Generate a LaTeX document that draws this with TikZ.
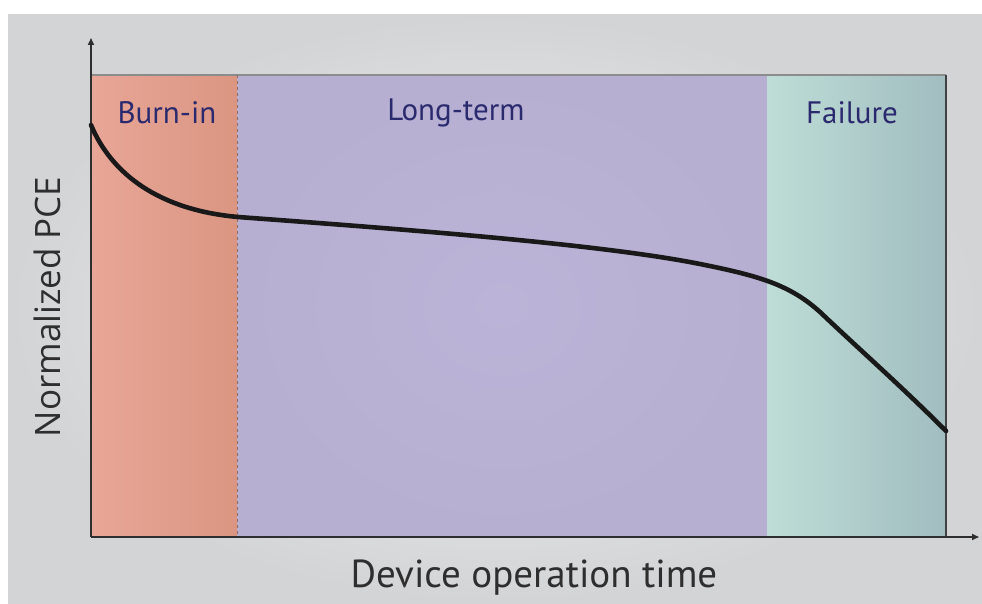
\documentclass[tikz,border=0pt]{standalone}
\usepackage{fontspec}
\setmainfont{PT Sans}
\newfontfamily\axisfont{Open Sans}
\usetikzlibrary{arrows.meta}
\definecolor{bgc}{HTML}{DEDFE1}
\definecolor{burnL}{HTML}{E8A697}
\definecolor{burnR}{HTML}{DB9682}
\definecolor{longc}{HTML}{B6AFD1}
\definecolor{longC}{HTML}{BCB4D8}
\definecolor{failL}{HTML}{BEDDD6}
\definecolor{failR}{HTML}{A1BDC0}
\definecolor{labc}{HTML}{2B2A6E}
\definecolor{axc}{HTML}{2E2E2E}
\tikzset{
  regionlabel/.style={text=labc, font=\fontsize{31}{34}\selectfont, inner sep=0pt},
  axislabel/.style={text=axc, font=\fontsize{39}{42}\selectfont, inner sep=0pt},
  axisline/.style={draw=axc, line width=1.6pt, -{Triangle[length=7pt,width=6pt]}},
  curveline/.style={draw=black!90, line width=4.6pt, line cap=round},
}
\begin{document}
\begin{tikzpicture}[x=1pt,y=-1pt]
\useasboundingbox (0,0) rectangle (982,604);
\fill[white] (0,0) rectangle (982,604);
\shade[inner color=bgc!40!white, outer color=bgc!95!black] (8,15) rectangle (982,604);
% regions
\shade[left color=burnL, right color=burnR] (91,75) rectangle (237,537);
\shade[inner color=longC, outer color=longc] (237,75) rectangle (767,537);
\shade[left color=failL, right color=failR] (767,75) rectangle (946,537);
\draw[draw=black!45, line width=1.4pt] (91,75) -- (946,75);
\draw[draw=black!75, line width=1.6pt] (946,75) -- (946,537);
\draw[draw=burnR!70!black, line width=0.6pt, dashed] (237,75) -- (237,537);
% axes
\coordinate (O) at (91,537);
\coordinate (ytip) at (91,38);
\coordinate (xtip) at (979,537);
\draw[axisline] (O) -- (ytip);
\draw[axisline] (O) -- (xtip);
% labels
\node[regionlabel] (burn) at (167,113) {Burn-in};
\node[regionlabel] (long) at (456,113) {Long-term};
\node[regionlabel] (fail) at (852,113) {Failure};
\node[axislabel, font=\axisfont\fontsize{35}{38}\selectfont, rotate=90] (ylab) at (47,307) {Normalized PCE};
\node[axislabel] (xlab) at (534,578) {Device operation time};
% curve
\coordinate (c0) at (91,125);
\coordinate (c1) at (238,217);
\coordinate (c2) at (700,264);
\coordinate (c3) at (820,312);
\coordinate (c4) at (946,431);
\draw[curveline] (c0) .. controls (112,175) and (160,210) .. (c1)
  .. controls (400,229) and (600,244) .. (c2)
  .. controls (760,276) and (790,285) .. (c3)
  .. controls (860,350) and (900,385) .. (c4);
\end{tikzpicture}
\end{document}
